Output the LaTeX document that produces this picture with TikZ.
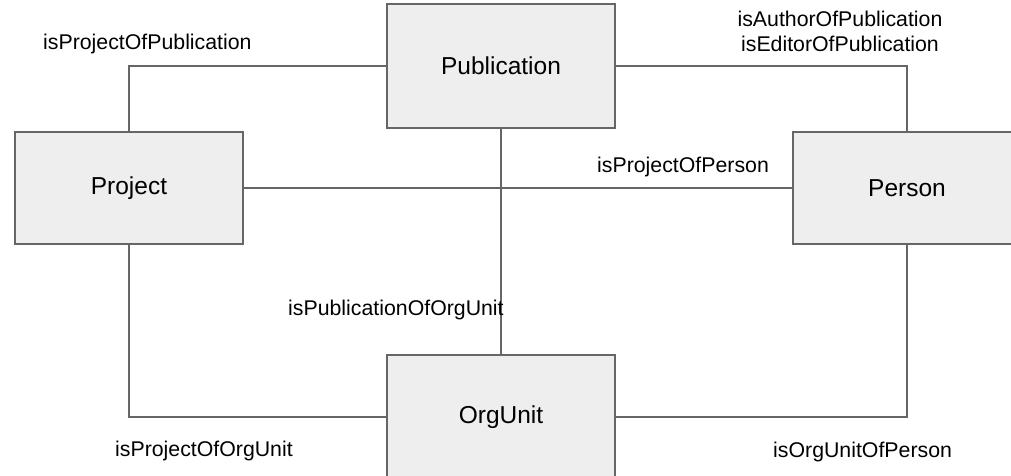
\documentclass[tikz,border=0pt]{standalone}
\usepackage{fontspec}
\setmainfont{Liberation Sans}
\definecolor{boxfill}{HTML}{EEEEEE}
\definecolor{linegray}{HTML}{666666}
\begin{document}
\begin{tikzpicture}[x=1pt,y=-1pt,
  box/.style={draw=linegray,fill=boxfill,line width=1.5pt,minimum width=228pt,inner sep=0pt,font=\fontsize{24.5}{30}\selectfont},
  link/.style={draw=linegray,line width=1.5pt},
  lbl/.style={anchor=base west,inner sep=0pt,font=\fontsize{21.3}{27}\selectfont}]
\clip (0,0) rectangle (1011,476);
\fill[white] (0,0) rectangle (1011,476);
\node[box,minimum height=124pt] (pub) at (501,66) {Publication};
\node[box,minimum height=112pt] (proj) at (129,188) {Project};
\node[box,minimum height=112pt] (pers) at (907,188) {Person};
\node[box,minimum height=124pt] (org) at (501,417) {OrgUnit};
\draw[link] (proj.north) |- (pub.west);
\draw[link] (pub.east) -| (pers.north);
\draw[link] (proj.east) -- (pers.west);
\draw[link] (pub.south) -- (org.north);
\draw[link] (proj.south) |- (org.west);
\draw[link] (org.east) -| (pers.south);
\node[lbl] (l1) at (43,50) {isProjectOfPublication};
\node[anchor=base,inner sep=0pt,align=center,font=\fontsize{21.3}{25.5}\selectfont] (l2) at (840,52) {isAuthorOfPublication\\isEditorOfPublication};
\node[lbl] (l3) at (597,172) {isProjectOfPerson};
\node[lbl] (l4) at (288,315) {isPublicationOfOrgUnit};
\node[lbl] (l5) at (115,456) {isProjectOfOrgUnit};
\node[lbl] (l6) at (773,457) {isOrgUnitOfPerson};
\end{tikzpicture}
\end{document}
